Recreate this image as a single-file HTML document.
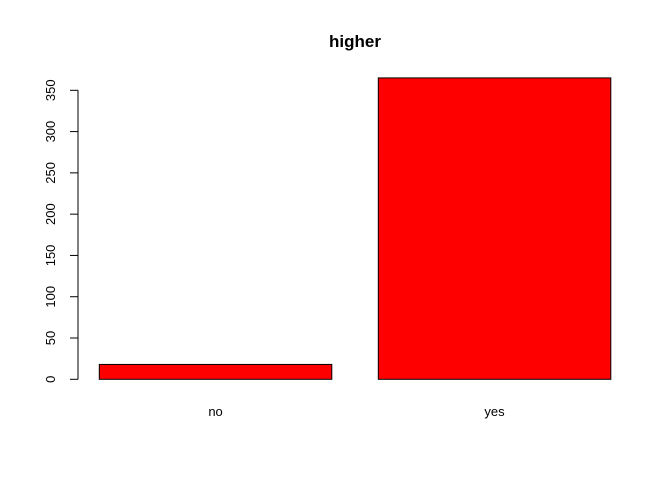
<!DOCTYPE html>
<html><head><meta charset="utf-8"><style>
html,body{margin:0;padding:0;background:#fff;}
svg{display:block;font-family:"Liberation Sans",Arial,sans-serif;}
</style></head><body>
<svg id="chart" width="672" height="480">
<text x="355" y="47" text-anchor="middle" font-size="17" font-weight="bold">higher</text>
<g id="yaxis"></g>
<g id="bars"></g>
<g id="xlabels"></g>
</svg>
<script>
const categories = ["no", "yes"];
const counts = [18, 365];
const yTicks = [0, 50, 100, 150, 200, 250, 300, 350];

const NS = "http://www.w3.org/2000/svg";
const y0 = 379.3, pxPerUnit = 289 / 350;
function yScale(v){ return y0 - v * pxPerUnit; }
const barW = 232.5, gap = 46.5, xStart = 99.3;
function xScale(i){ return xStart + i * (barW + gap); }

const ya = document.getElementById('yaxis');
const axLine = document.createElementNS(NS, 'line');


axLine.setAttribute('x1', 78); axLine.setAttribute('x2', 78);
axLine.setAttribute('y1', yScale(yTicks[0])); axLine.setAttribute('y2', yScale(yTicks[yTicks.length-1]));
axLine.setAttribute('stroke', '#000');
ya.appendChild(axLine);
yTicks.forEach(t => {
  const y = yScale(t);
  const tk = document.createElementNS(NS, 'line');
  
  
  tk.setAttribute('x1', 70); tk.setAttribute('x2', 78);
  tk.setAttribute('y1', y); tk.setAttribute('y2', y);
  tk.setAttribute('stroke', '#000');
  ya.appendChild(tk);
  const tx = document.createElementNS(NS, 'text');
  
  
  tx.setAttribute('transform', `translate(55,${y}) rotate(-90)`);
  tx.setAttribute('text-anchor', 'middle');
  tx.setAttribute('font-size', '13');
  tx.textContent = t;
  ya.appendChild(tx);
});

const bg = document.getElementById('bars');
const xl = document.getElementById('xlabels');
categories.forEach((c, i) => {
  const r = document.createElementNS(NS, 'rect');
  
  
  const yt = yScale(counts[i]);
  r.setAttribute('x', xScale(i)); r.setAttribute('y', yt);
  r.setAttribute('width', barW); r.setAttribute('height', y0 - yt);
  r.setAttribute('fill', '#ff0000'); r.setAttribute('stroke', '#000'); r.setAttribute('stroke-width', '1');
  bg.appendChild(r);
  const t = document.createElementNS(NS, 'text');
  
  
  t.setAttribute('x', xScale(i) + barW / 2); t.setAttribute('y', 416);
  t.setAttribute('text-anchor', 'middle'); t.setAttribute('font-size', '13');
  t.textContent = c;
  xl.appendChild(t);
});
</script>
</body></html>
